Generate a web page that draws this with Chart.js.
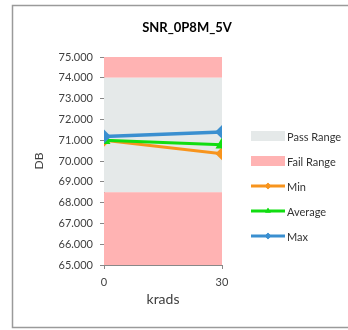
<!DOCTYPE html>
<html>
<head>
<meta charset="utf-8">
<script src="https://cdn.jsdelivr.net/npm/chart.js@4"></script>
<style>
  body { margin: 0; background: #fff; }
  #wrap { position: relative; width: 348px; height: 330px; }
</style>
</head>
<body>
<div id="wrap"><canvas id="snrChart" width="348" height="330"></canvas></div>
<script>
// Values
const krads = [0, 30];
const minVals = [71.0, 70.35];
const avgVals = [71.0, 70.78];
const maxVals = [71.18, 71.4];
const passRange = [68.5, 74.0];
const axisRange = [65, 75];

const pts = vals => krads.map((k, i) => ({ x: k, y: vals[i] }));
const flat = v => krads.map(k => ({ x: k, y: v }));

const PASS = '#e5e9e9';
const FAIL = '#ffb3b3';

// Custom legend + title + outer frame, like the Excel chart
const decor = {
  id: 'decor',
  afterDraw(chart) {
    const c = chart.ctx;
    c.save();
    c.strokeStyle = '#9a9a9a';
    c.lineWidth = 1.5;
    c.strokeRect(12.5, 5.5, 340, 322);

    c.fillStyle = '#000';
    c.font = 'bold 13px Lato';
    c.textAlign = 'center';
    c.textBaseline = 'middle';
    c.fillText('SNR_0P8M_5V', 187, 28);

    c.font = '11px Lato';
    c.textAlign = 'left';
    const items = [
      { label: 'Pass Range', y: 136, box: PASS },
      { label: 'Fail Range', y: 161, box: FAIL },
      { label: 'Min', y: 186, ds: 3 },
      { label: 'Average', y: 211, ds: 4 },
      { label: 'Max', y: 236, ds: 5 }
    ];
    items.forEach(it => {
      if (it.box) {
        c.fillStyle = it.box;
        c.fillRect(251, it.y - 5, 34, 10);
      } else {
        const d = chart.data.datasets[it.ds];
        c.strokeStyle = d.borderColor;
        c.lineWidth = 3;
        c.beginPath();
        c.moveTo(251, it.y);
        c.lineTo(285, it.y);
        c.stroke();
        c.fillStyle = d.borderColor;
        c.beginPath();
        Chart.helpers.drawPoint(c, {
          pointStyle: d.pointStyle, radius: 3.2, borderWidth: 0, rotation: 0
        }, 268, it.y);
        c.fill();
      }
      c.fillStyle = '#333';
      c.fillText(it.label, 287, it.y + 1);
    });
    c.restore();
  }
};

const ctx = document.getElementById('snrChart').getContext('2d');
const snrChart = new Chart(ctx, {
  type: 'line',
  data: {
    datasets: [
      { label: 'Fail Range', data: flat(passRange[0]), fill: { value: axisRange[0] },
        backgroundColor: FAIL, borderWidth: 0, pointRadius: 0, order: 10 },
      { label: 'Pass Range', data: flat(passRange[1]), fill: { value: passRange[0] },
        backgroundColor: PASS, borderWidth: 0, pointRadius: 0, order: 10 },
      { label: 'Fail Range', data: flat(axisRange[1]), fill: { value: passRange[1] },
        backgroundColor: FAIL, borderWidth: 0, pointRadius: 0, order: 10 },
      { label: 'Min', data: pts(minVals), borderColor: '#f7941d', backgroundColor: '#f7941d',
        borderWidth: 3, pointStyle: 'rectRot', pointRadius: 4.5, order: 3 },
      { label: 'Average', data: pts(avgVals), borderColor: '#11dd11', backgroundColor: '#11dd11',
        borderWidth: 3, pointStyle: 'triangle', pointRadius: 4.5, order: 2 },
      { label: 'Max', data: pts(maxVals), borderColor: '#3a8fd0', backgroundColor: '#3a8fd0',
        borderWidth: 3.5, pointStyle: 'rectRot', pointRadius: 4.5, order: 1 }
    ]
  },
  options: {
    responsive: false,
    animation: false,
    layout: { padding: { left: 26, right: 126, top: 57, bottom: 18 } },
    plugins: { legend: { display: false }, title: { display: false }, tooltip: { enabled: false } },
    scales: {
      x: {
        type: 'linear', min: krads[0], max: krads[1],
        ticks: { stepSize: 30, color: '#404040', font: { family: 'Lato', size: 11 }, padding: 7 },
        grid: { drawOnChartArea: false, tickLength: 4, color: '#888' },
        border: { color: '#888' },
        title: { display: true, text: 'krads', color: '#404040', font: { family: 'Lato', size: 14 }, padding: { top: 8 } },
        afterFit: s => { s.height = 47; }
      },
      y: {
        min: axisRange[0], max: axisRange[1],
        ticks: { stepSize: 1, color: '#404040', font: { family: 'Lato', size: 11 }, padding: 7,
          callback: v => v.toFixed(3) },
        grid: { drawOnChartArea: false, tickLength: 4, color: '#888' },
        border: { color: '#888' },
        title: { display: true, text: 'DB', color: '#404040', font: { family: 'Lato', size: 12 }, padding: { top: 6, bottom: 0 } },
        afterFit: s => { s.width = 78; }
      }
    }
  },
  plugins: [decor]
});
</script>
</body>
</html>
